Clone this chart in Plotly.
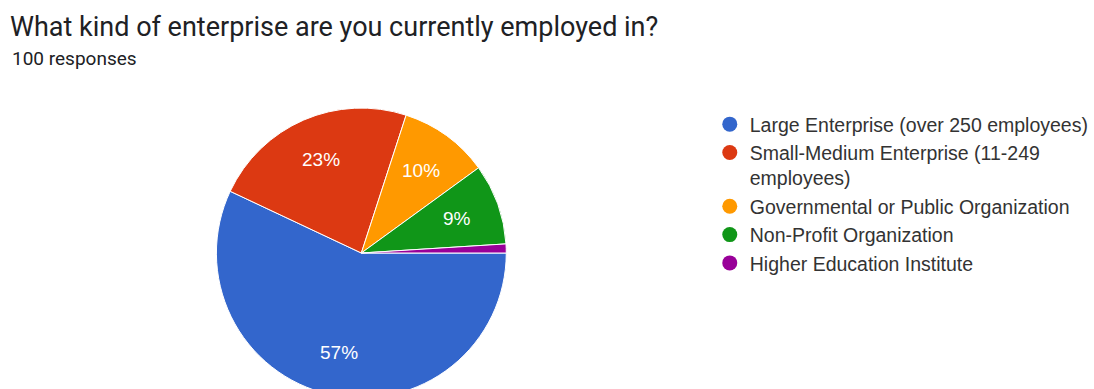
import math
import plotly.graph_objects as go

# Survey answers: "What kind of enterprise are you currently employed in?"
categories = [
    "Large Enterprise (over 250 employees)",
    "Small-Medium Enterprise (11-249<br>employees)",
    "Governmental or Public Organization",
    "Non-Profit Organization",
    "Higher Education Institute",
]
responses = [57, 23, 10, 9, 1]
colors = ["#3366CC", "#DC3912", "#FF9900", "#109618", "#990099"]

title_text = "What kind of enterprise are you currently employed in?"
subtitle_text = f"{sum(responses)} responses"

W, H = 1094, 400

# Pie placement in pixels (figure top-left origin)
PIE_X0, PIE_X1 = 218, 510
PIE_TOP, PIE_BOTTOM = 107, 399
START_DEG = 90          # first slice starts at 3 o'clock, going clockwise
LABEL_R = 0.70          # label distance from centre, as a fraction of radius

fig = go.Figure()
fig.add_trace(go.Pie(
    labels=categories,
    values=responses,
    sort=False,
    direction="clockwise",
    rotation=START_DEG,
    marker=dict(colors=colors, line=dict(color="white", width=1)),
    textinfo="none",
    showlegend=False,
    hoverinfo="label+percent",
    domain=dict(x=[PIE_X0 / W, PIE_X1 / W], y=[(H - PIE_BOTTOM) / H, (H - PIE_TOP) / H]),
))

# Percent labels placed at each slice's mid-angle; tiny slices stay unlabeled
total = sum(responses)
cx = (PIE_X0 + PIE_X1) / 2
cy = (PIE_TOP + PIE_BOTTOM) / 2
radius = (PIE_X1 - PIE_X0) / 2
annotations = []
acc = 0.0
for v in responses:
    mid = START_DEG + 360.0 * (acc + v / 2) / total
    acc += v
    if v / total < 0.05:
        continue
    th = math.radians(mid)
    px = cx + LABEL_R * radius * math.sin(th)
    py = cy - LABEL_R * radius * math.cos(th)
    annotations.append(dict(
        text=f"{round(100 * v / total)}%", x=px / W, y=1 - py / H,
        xref="paper", yref="paper", xanchor="center", yanchor="middle",
        showarrow=False,
        font=dict(family="Arial, Liberation Sans, sans-serif", size=19, color="white"),
    ))

# Legend entries with round swatches
for name, c in zip(categories, colors):
    fig.add_trace(go.Scatter(
        x=[None], y=[None], mode="markers", name=name,
        legendgroup=name,
        marker=dict(symbol="circle", size=15, color=c),
    ))

annotations += [
    dict(text=title_text, x=8 / W, y=1 - 27 / H, xref="paper", yref="paper",
         xanchor="left", yanchor="middle", showarrow=False,
         font=dict(family="Roboto, Arial, sans-serif", size=27, color="#202124")),
    dict(text=subtitle_text, x=10 / W, y=1 - 58 / H, xref="paper", yref="paper",
         xanchor="left", yanchor="middle", showarrow=False,
         font=dict(family="Roboto, Arial, sans-serif", size=19, color="#202124")),
]

fig.update_layout(
    width=W, height=H,
    margin=dict(l=0, r=0, t=0, b=0),
    paper_bgcolor="white", plot_bgcolor="white",
    xaxis=dict(visible=False), yaxis=dict(visible=False),
    legend=dict(
        x=715 / W, y=1 - 105 / H, xanchor="left", yanchor="top",
        font=dict(family="Arial, Liberation Sans, sans-serif", size=19.5, color="#333333"),
        tracegroupgap=0, valign="top", itemsizing="trace",
        bgcolor="rgba(0,0,0,0)",
    ),
    annotations=annotations,
)

fig.write_html("out.html")
